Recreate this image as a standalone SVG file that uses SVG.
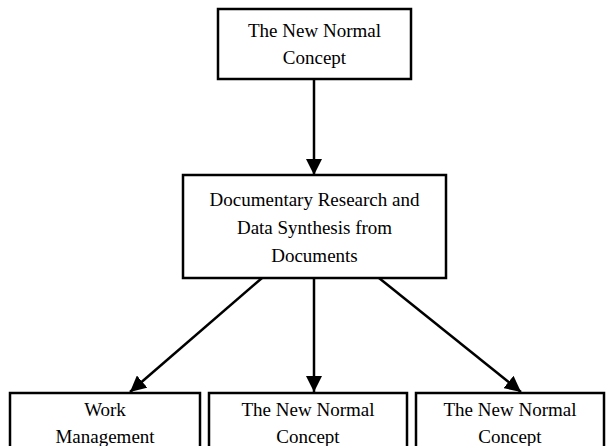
<svg xmlns="http://www.w3.org/2000/svg" width="607" height="446" viewBox="0 0 607 446">
<defs>
<marker id="ah" markerWidth="16" markerHeight="16" refX="16" refY="8" orient="auto" markerUnits="userSpaceOnUse" viewBox="0 0 16 16">
<path d="M0,0 L16,8 L0,16 z" fill="#000"/>
</marker>
<style>
.box{fill:#fff;stroke:#000;stroke-width:2.5}
.t{font-family:"Liberation Serif","Times New Roman",serif;font-size:19px;fill:#000;text-anchor:middle}
.c{stroke:#000;stroke-width:2.5;fill:none;marker-end:url(#ah)}
</style>
</defs>
<rect width="607" height="446" fill="#fff"/>
<g id="connectors">
<line class="c" x1="314" y1="79" x2="314" y2="175"/>
<line class="c" x1="262" y1="278" x2="130" y2="392"/>
<line class="c" x1="314" y1="278" x2="314" y2="392"/>
<line class="c" x1="379" y1="278" x2="521" y2="392"/>
</g>
<g id="n1">
<rect class="box" x="218" y="9" width="193" height="70"/>
<text class="t" x="314.5" y="37">The New Normal</text>
<text class="t" x="314.5" y="64">Concept</text>
</g>
<g id="n2">
<rect class="box" x="183" y="175" width="263" height="103"/>
<text class="t" x="314.5" y="206">Documentary Research and</text>
<text class="t" x="314.5" y="234">Data Synthesis from</text>
<text class="t" x="314.5" y="262">Documents</text>
</g>
<g id="n3">
<rect class="box" x="10" y="393" width="190" height="70"/>
<text class="t" x="105" y="416">Work</text>
<text class="t" x="105" y="443">Management</text>
</g>
<g id="n4">
<rect class="box" x="209" y="393" width="198" height="70"/>
<text class="t" x="308" y="416">The New Normal</text>
<text class="t" x="308" y="443">Concept</text>
</g>
<g id="n5">
<rect class="box" x="416" y="393" width="188" height="70"/>
<text class="t" x="510" y="416">The New Normal</text>
<text class="t" x="510" y="443">Concept</text>
</g>
</svg>
